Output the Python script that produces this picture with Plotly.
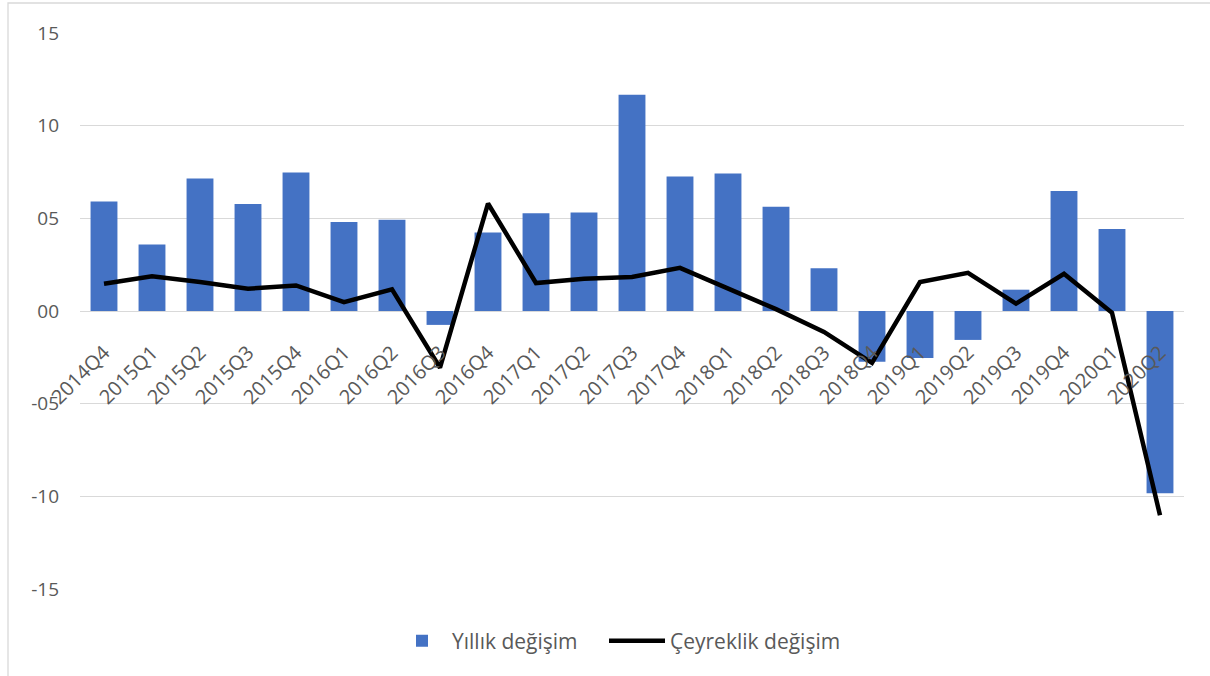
import plotly.graph_objects as go

categories = ["2014Q4", "2015Q1", "2015Q2", "2015Q3", "2015Q4", "2016Q1", "2016Q2", "2016Q3",
              "2016Q4", "2017Q1", "2017Q2", "2017Q3", "2017Q4", "2018Q1", "2018Q2", "2018Q3",
              "2018Q4", "2019Q1", "2019Q2", "2019Q3", "2019Q4", "2020Q1", "2020Q2"]
yillik = [5.91, 3.59, 7.15, 5.77, 7.47, 4.80, 4.92, -0.75,
          4.23, 5.27, 5.32, 11.67, 7.26, 7.42, 5.63, 2.30,
          -2.74, -2.53, -1.56, 1.15, 6.47, 4.43, -9.84]
ceyreklik = [1.47, 1.88, 1.56, 1.20, 1.38, 0.48, 1.17, -3.06,
             5.80, 1.51, 1.74, 1.83, 2.33, 1.20, 0.10, -1.13,
             -2.80, 1.56, 2.06, 0.40, 2.01, -0.10, -11.02]
y_tickvals = [15, 10, 5, 0, -5, -10, -15]
y_ticktext = ["15", "10", "05", "00", "-05", "-10", "-15"]

W, H = 1210, 676
ml, mr, mt, mb = 80, 26, 33, 87
pw = W - ml - mr
ph = H - mt - mb

def px_x(x):
    return (x - ml) / pw

def px_y(y):
    return (H - mb - y) / ph

font_fam = "Open Sans, Noto Sans, sans-serif"
grey = "#595959"

fig = go.Figure()
fig.add_trace(go.Bar(
    x=categories, y=yillik, name="Yıllık değişim",
    marker=dict(color="#4472C4", line=dict(width=0)),
    legend="legend",
))
fig.add_trace(go.Scatter(
    x=categories, y=ceyreklik, name="Çeyreklik değişim", mode="lines",
    line=dict(color="#000000", width=4.5),
    legend="legend2",
))

leg_common = dict(orientation="h", yanchor="middle", y=px_y(641), xanchor="left",
                  font=dict(family=font_fam, size=21, color=grey), bgcolor="rgba(0,0,0,0)")

fig.update_layout(
    width=W, height=H,
    margin=dict(l=ml, r=mr, t=mt, b=mb),
    paper_bgcolor="white", plot_bgcolor="white",
    bargap=0.44,
    showlegend=True,
    legend=dict(x=px_x(392), itemwidth=50, **leg_common),
    legend2=dict(x=px_x(604), itemwidth=56, **leg_common),
    font=dict(family=font_fam, color=grey),
    xaxis=dict(
        type="category", anchor="free", position=0.5,
        tickangle=-45, tickfont=dict(family=font_fam, size=20, color=grey),
        showgrid=False, showline=False, ticks="", zeroline=False,
        ticklabelstandoff=25,
    ),
    yaxis=dict(
        range=[-15, 15], tickvals=y_tickvals, ticktext=y_ticktext,
        tickfont=dict(family=font_fam, size=19, color=grey),
        showgrid=True, gridcolor="#D9D9D9", gridwidth=1.3,
        zeroline=True, zerolinecolor="#D9D9D9", zerolinewidth=1.3,
        showline=False, ticks="", ticklabelstandoff=20,
    ),
    shapes=[dict(type="rect", xref="paper", yref="paper",
                 x0=px_x(8), x1=px_x(1230), y0=px_y(700), y1=px_y(3),
                 line=dict(color="#D9D9D9", width=1.3), layer="below")],
)

fig.write_html("out.html", config={"displayModeBar": False},
               post_script="document.body.style.margin='0';document.body.style.overflow='hidden';")
